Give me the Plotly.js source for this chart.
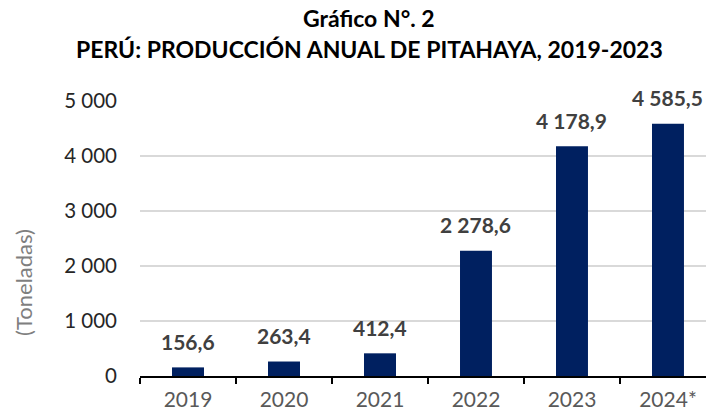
<!DOCTYPE html>
<html><head><meta charset="utf-8">
<script src="https://cdn.plot.ly/plotly-3.0.1.min.js"></script>
<style>html,body{margin:0;padding:0;background:#fff}#c{width:706px;height:412px}</style>
</head><body><div id="c"></div>
<script>
const categories = ["2019","2020","2021","2022","2023","2024*"];
const values = [156.6, 263.4, 412.4, 2278.6, 4178.9, 4585.5];
const yTicks = [0,1000,2000,3000,4000,5000];
const yTickText = ["0","1 000","2 000","3 000","4 000","5 000"];
const titleLines = ["Gráfico N°. 2", "PERÚ: PRODUCCIÓN ANUAL DE PITAHAYA, 2019-2023"];
const yAxisTitle = "(Toneladas)";

function fmt(v){
  const parts = v.toFixed(1).split(".");
  const intPart = parts[0].replace(/\B(?=(\d{3})+(?!\d))/g, " ");
  return intPart + "," + parts[1];
}

const FONT = "Lato, 'Open Sans', sans-serif";
const trace = {
  type: "bar", x: categories, y: values,
  marker: {color: "#002060"},
  hoverinfo: "none"
};
const annotations = categories.map((c,i)=>({
  x: i, y: values[i], xref: "x", yref: "y", text: "<b>"+fmt(values[i])+"</b>",
  showarrow: false, yanchor: "middle", yshift: 26,
  font: {family: FONT, size: 21, color: "#404040"}
}));
const titleY = [1.3018, 1.189];
titleLines.forEach((t,i)=>annotations.push({
  xref: "paper", yref: "paper", x: 0.4046, y: titleY[i],
  xanchor: "center", yanchor: "middle", showarrow: false,
  text: "<b>"+t+"</b>", font: {family: FONT, size: 23, color: "#000"}
}));
annotations.push({
  xref: "paper", yref: "paper", x: -0.205, y: 0.342,
  xanchor: "center", yanchor: "middle", showarrow: false, textangle: -90,
  text: yAxisTitle, font: {family: FONT, size: 22, color: "#7f7f7f"}
});

const layout = {
  width: 706, height: 412,
  margin: {l: 140, r: 0, t: 101, b: 36},
  paper_bgcolor: "#fff", plot_bgcolor: "#fff",
  bargap: 0.667,
  showlegend: false,
  xaxis: {
    type: "category", range: [-0.5, 5.396],
    showline: true, linecolor: "#000", linewidth: 1.5,
    ticks: "outside", tickson: "boundaries", ticklen: 6, tickcolor: "#000", tickwidth: 1.5,
    ticklabelstandoff: 4,
    tickfont: {family: FONT, size: 21, color: "#595959"},
    showgrid: false, fixedrange: true
  },
  yaxis: {
    range: [0, 5000], tickvals: yTicks, ticktext: yTickText,
    showgrid: true, gridcolor: "#d9d9d9", gridwidth: 1.3,
    zeroline: false, showline: false, ticks: "",
    ticklabelstandoff: 22,
    tickfont: {family: FONT, size: 20.5, color: "#262626"},
    fixedrange: true
  },
  annotations: annotations
};
Plotly.newPlot("c", [trace], layout, {displayModeBar: false, staticPlot: true});
</script></body></html>
